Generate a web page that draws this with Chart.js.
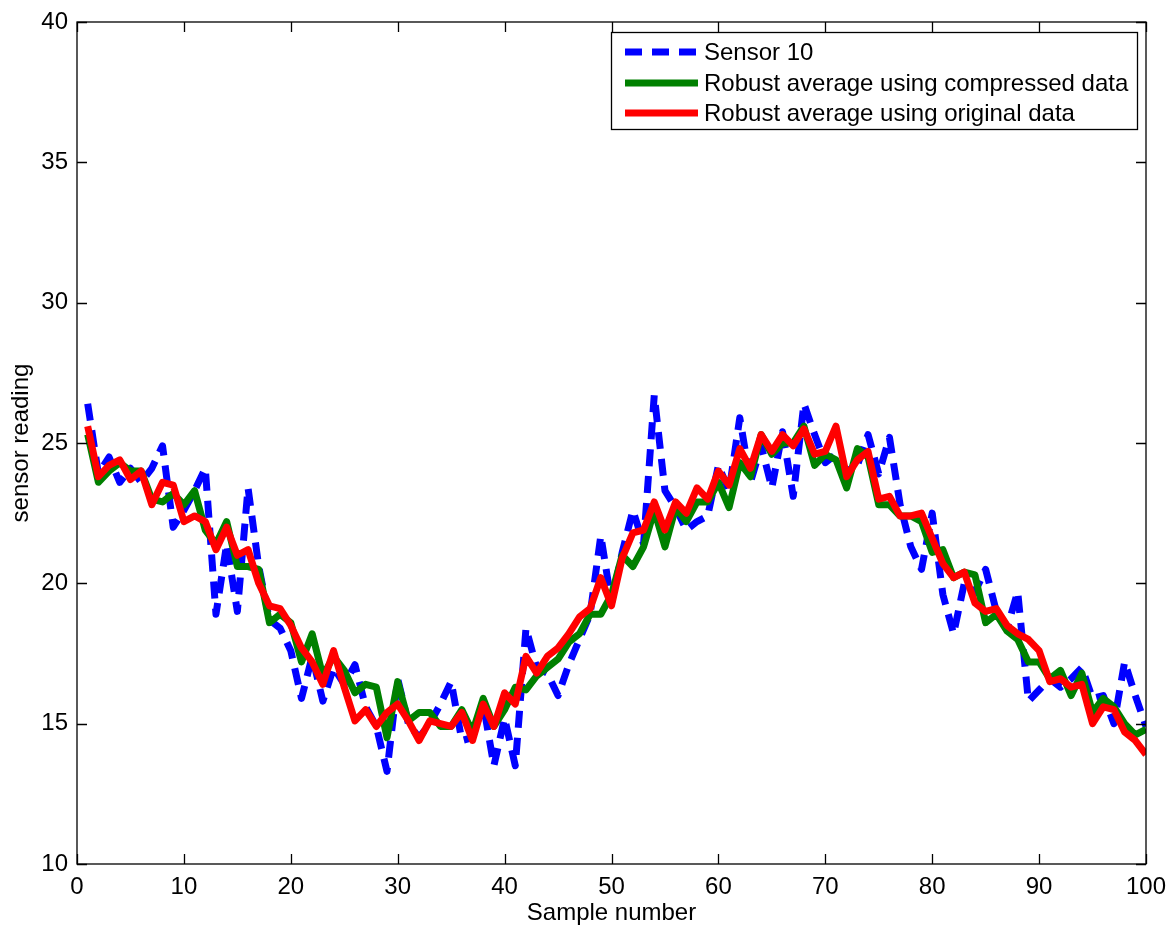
<!DOCTYPE html>
<html>
<head>
<meta charset="utf-8">
<title>Sensor 10 robust average</title>
<script src="https://cdn.jsdelivr.net/npm/chart.js@4.4.1/dist/chart.umd.min.js"></script>
<style>
    html, body { margin: 0; padding: 0; background: #fff; }
    #wrap { width: 1170px; height: 930px; }
</style>
</head>
<body>
<div id="wrap"><canvas id="sensorChart" width="1170" height="930"></canvas></div>
<script>
// sample index 1..100
const samples = [
    1, 2, 3, 4, 5, 6, 7, 8, 9, 10, 11, 12, 13, 14, 15, 16, 17, 18, 19, 20,
    21, 22, 23, 24, 25, 26, 27, 28, 29, 30, 31, 32, 33, 34, 35, 36, 37, 38, 39, 40,
    41, 42, 43, 44, 45, 46, 47, 48, 49, 50, 51, 52, 53, 54, 55, 56, 57, 58, 59, 60,
    61, 62, 63, 64, 65, 66, 67, 68, 69, 70, 71, 72, 73, 74, 75, 76, 77, 78, 79, 80,
    81, 82, 83, 84, 85, 86, 87, 88, 89, 90, 91, 92, 93, 94, 95, 96, 97, 98, 99, 100
];

// raw readings from sensor 10
const sensor10 = [
    26.4, 23.9, 24.5, 23.6, 24.1, 23.6, 24.1, 24.9, 22.0, 22.6,
    23.3, 24.1, 18.9, 21.4, 19.0, 23.4, 20.6, 18.7, 18.4, 17.6,
    15.9, 17.4, 15.8, 17.0, 16.4, 17.1, 15.6, 14.9, 13.3, 16.6,
    15.0, 14.5, 15.0, 15.7, 16.5, 14.4, 14.5, 15.7, 13.5, 15.2,
    13.5, 18.4, 17.0, 16.8, 16.0, 17.1, 18.0, 18.9, 21.7, 19.3,
    21.1, 22.6, 21.4, 26.7, 23.3, 22.7, 21.9, 22.2, 22.4, 24.2,
    23.3, 25.9, 23.6, 24.9, 23.4, 25.4, 23.1, 26.4, 25.3, 24.3,
    24.6, 24.0, 24.2, 25.3, 23.9, 25.2, 22.8, 21.3, 20.5, 22.5,
    19.6, 18.2, 20.0, 19.7, 20.5, 19.0, 18.4, 19.7, 15.8, 16.2,
    16.6, 16.3, 16.6, 17.0, 15.9, 16.0, 15.0, 17.2, 16.0, 14.9
];

// robust average computed from the compressed data
const robustCompressed = [
    25.3, 23.6, 24.0, 24.3, 24.0, 24.0, 23.0, 22.9, 23.2, 22.8,
    23.3, 21.9, 21.4, 22.2, 20.6, 20.6, 20.5, 18.6, 18.9, 18.6,
    17.2, 18.2, 16.7, 17.4, 16.9, 16.1, 16.4, 16.3, 14.5, 16.5,
    15.1, 15.4, 15.4, 14.9, 14.9, 15.5, 14.7, 15.9, 14.9, 15.5,
    16.3, 16.2, 16.7, 17.0, 17.3, 17.9, 18.2, 18.9, 18.9, 19.6,
    21.0, 20.6, 21.3, 22.6, 21.3, 22.7, 22.2, 22.9, 22.9, 23.6,
    22.7, 24.3, 23.8, 25.3, 24.6, 25.0, 25.0, 25.6, 24.2, 24.6,
    24.4, 23.4, 24.8, 24.5, 22.8, 22.8, 22.4, 22.4, 22.2, 21.1,
    21.2, 20.2, 20.4, 20.3, 18.6, 18.9, 18.3, 18.0, 17.2, 17.2,
    16.6, 16.9, 16.0, 16.8, 15.4, 15.9, 15.6, 15.0, 14.6, 14.8
];

// robust average computed from the original data
const robustOriginal = [
    25.6, 23.8, 24.2, 24.4, 23.7, 24.0, 22.8, 23.6, 23.5, 22.2,
    22.4, 22.2, 21.2, 22.0, 21.0, 21.2, 20.0, 19.2, 19.1, 18.5,
    17.7, 17.2, 16.4, 17.6, 16.3, 15.1, 15.5, 14.9, 15.4, 15.7,
    15.1, 14.4, 15.1, 15.0, 14.9, 15.4, 14.4, 15.7, 14.9, 16.1,
    15.7, 17.4, 16.8, 17.4, 17.7, 18.2, 18.8, 19.1, 20.2, 19.2,
    20.9, 21.8, 21.9, 22.9, 21.9, 22.9, 22.5, 23.4, 23.0, 24.0,
    23.5, 24.8, 24.1, 25.3, 24.7, 25.3, 24.9, 25.5, 24.6, 24.7,
    25.6, 23.8, 24.4, 24.7, 23.0, 23.1, 22.4, 22.4, 22.5, 21.6,
    20.7, 20.2, 20.4, 19.3, 19.0, 19.1, 18.5, 18.2, 18.0, 17.6,
    16.5, 16.6, 16.3, 16.4, 15.0, 15.6, 15.5, 14.7, 14.4, 13.9
];

const xTicks = [0, 10, 20, 30, 40, 50, 60, 70, 80, 90, 100];
const yTicks = [10, 15, 20, 25, 30, 35, 40];

const FONT = '"Liberation Sans", Arial, Helvetica, sans-serif';
Chart.defaults.font.family = FONT;
Chart.defaults.font.size = 24;
Chart.defaults.color = '#000';

const toPoints = values => values.map((v, i) => ({ x: samples[i], y: v }));

// axes box with inward tick marks on all four sides
const frame = {
    id: 'frame',
    afterDatasetsDraw(chart) {
        const { ctx, chartArea: a, scales: { x, y } } = chart;
        const len = 10;
        ctx.save();
        ctx.strokeStyle = '#000';
        ctx.lineWidth = 1.3;
        ctx.beginPath();
        xTicks.forEach(v => {
            const px = Math.round(x.getPixelForValue(v)) + 0.5;
            ctx.moveTo(px, a.bottom); ctx.lineTo(px, a.bottom - len);
            ctx.moveTo(px, a.top); ctx.lineTo(px, a.top + len);
        });
        yTicks.forEach(v => {
            const py = Math.round(y.getPixelForValue(v)) + 0.5;
            ctx.moveTo(a.left, py); ctx.lineTo(a.left + len, py);
            ctx.moveTo(a.right, py); ctx.lineTo(a.right - len, py);
        });
        ctx.stroke();
        ctx.strokeRect(a.left, a.top, a.right - a.left, a.bottom - a.top);
        ctx.restore();
    }
};

// boxed legend in the upper right corner of the axes
const boxLegend = {
    id: 'boxLegend',
    afterDraw(chart) {
        const { ctx } = chart;
        const box = { x: 611, y: 32, w: 526, h: 97 };
        const rows = [52, 83, 113];
        ctx.save();
        ctx.fillStyle = '#fff';
        ctx.fillRect(box.x, box.y, box.w, box.h);
        ctx.strokeStyle = '#000';
        ctx.lineWidth = 1.3;
        ctx.strokeRect(box.x + 0.5, box.y + 0.5, box.w, box.h);
        chart.data.datasets.forEach((ds, i) => {
            const yy = rows[i];
            ctx.save();
            ctx.beginPath();
            ctx.rect(625, yy - 10, 73, 20);
            ctx.clip();
            ctx.strokeStyle = ds.borderColor;
            ctx.lineWidth = ds.borderWidth;
            ctx.setLineDash(ds.borderDash || []);
            ctx.beginPath();
            ctx.moveTo(625, yy);
            ctx.lineTo(698, yy);
            ctx.stroke();
            ctx.restore();
            ctx.fillStyle = '#000';
            ctx.font = '24px ' + FONT;
            ctx.textBaseline = 'middle';
            ctx.textAlign = 'left';
            ctx.fillText(ds.label, 704, yy + 1);
        });
        ctx.restore();
    }
};

const ctx = document.getElementById('sensorChart').getContext('2d');
new Chart(ctx, {
    type: 'line',
    data: {
        datasets: [{
            label: 'Sensor 10',
            data: toPoints(sensor10),
            borderColor: '#0000ff',
            borderWidth: 7,
            borderDash: [17, 10],
            order: 3
        }, {
            label: 'Robust average using compressed data',
            data: toPoints(robustCompressed),
            borderColor: '#008000',
            borderWidth: 7,
            order: 2
        }, {
            label: 'Robust average using original data',
            data: toPoints(robustOriginal),
            borderColor: '#ff0000',
            borderWidth: 7,
            order: 1
        }]
    },
    options: {
        responsive: false,
        animation: false,
        events: [],
        layout: { padding: { left: 0, top: 22, right: 24, bottom: 0 } },
        elements: {
            point: { radius: 0 },
            line: { tension: 0, fill: false, borderJoinStyle: 'round' }
        },
        plugins: {
            legend: { display: false },
            tooltip: { enabled: false }
        },
        scales: {
            x: {
                type: 'linear',
                min: 0,
                max: 100,
                afterFit: scale => {
                    scale.height = 66;
                    scale.paddingLeft = 0;
                    scale.paddingRight = 0;
                },
                afterBuildTicks: scale => { scale.ticks = xTicks.map(v => ({ value: v })); },
                grid: { display: false, drawTicks: false },
                border: { display: false },
                ticks: { padding: 9, maxRotation: 0 },
                title: {
                    display: true,
                    text: 'Sample number',
                    padding: { top: 0, bottom: 2 }
                }
            },
            y: {
                type: 'linear',
                min: 10,
                max: 40,
                afterFit: scale => {
                    scale.width = 77;
                    scale.paddingTop = 0;
                    scale.paddingBottom = 0;
                },
                afterBuildTicks: scale => { scale.ticks = yTicks.map(v => ({ value: v })); },
                grid: { display: false, drawTicks: false },
                border: { display: false },
                ticks: { padding: 9 },
                title: {
                    display: true,
                    text: 'sensor reading',
                    padding: { top: 7, bottom: 0 }
                }
            }
        }
    },
    plugins: [frame, boxLegend]
});
</script>
</body>
</html>
